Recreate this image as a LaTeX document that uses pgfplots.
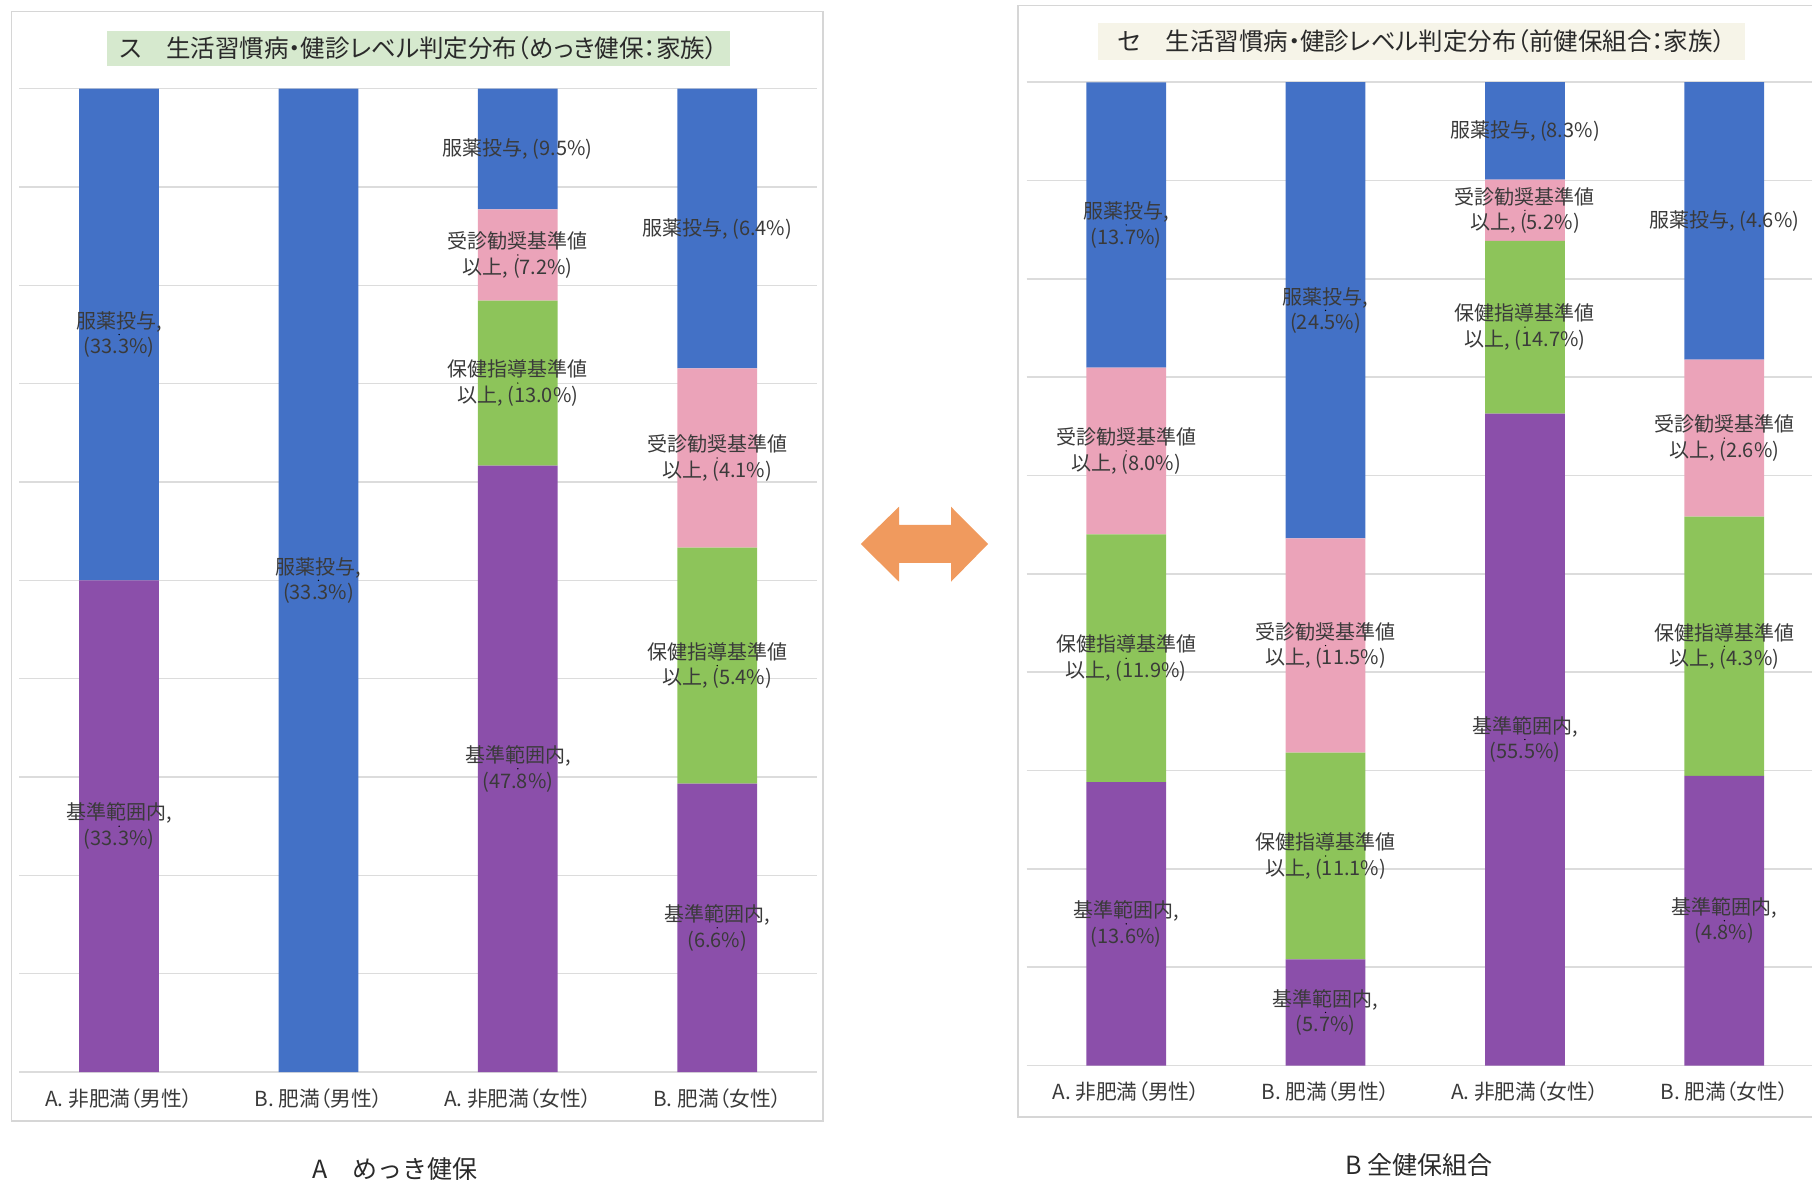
\documentclass[border=0pt]{standalone}
\usepackage{pgfplots}
\pgfplotsset{compat=1.18}
\usepackage{pgfplotstable}
\usepackage{fontspec}
\setmainfont{Noto Sans CJK JP}
% proportional punctuation for titles and category names
\newfontfamily\pfont[RawFeature=+palt]{Noto Sans CJK JP}

\definecolor{cKijun}{HTML}{8B4FAA}
\definecolor{cHoken}{HTML}{8DC45A}
\definecolor{cJushin}{HTML}{EBA3B9}
\definecolor{cFukuyaku}{HTML}{4371C6}
\definecolor{gridgray}{HTML}{DCDCDC}
\definecolor{framegray}{HTML}{D6D6D6}
\definecolor{txt}{HTML}{3A3A3A}
\definecolor{titletext}{HTML}{2A2A2A}
\definecolor{titlegreen}{HTML}{D6E9CE}
\definecolor{titlecream}{HTML}{F6F4E8}
\definecolor{arrowfill}{HTML}{F09A5E}

% shares (%) per group: pur = 基準範囲内, grn = 保健指導基準値以上,
% pnk = 受診勧奨基準値以上, blu = 服薬投与
\pgfplotstableread{
x pur grn pnk blu
0 33.3 0    0   33.3
1 0    0    0   33.3
2 47.8 13.0 7.2 9.5
3 6.6  5.4  4.1 6.4
}\mekki
\pgfplotstableread{
x pur grn pnk blu
0 13.6 11.9 8.0  13.7
1 5.7  11.1 11.5 24.5
2 55.5 14.7 5.2  8.3
3 4.8  4.3  2.6  4.6
}\zenkenpo

% group total, used to draw every bar at full height (100% stacked)
\newcommand\tot{(\thisrow{pur}+\thisrow{grn}+\thisrow{pnk}+\thisrow{blu})}

% #1 table, #2 column, #3 colour
\newcommand\shareplot[3]{%
  \addplot[fill=#3, draw=none]
    table[x=x, y expr={\thisrow{#2}/\tot*100}] {#1};
}

% value label in the middle of a segment
% #1 table, #2 column, #3 condition, #4 sum of the segments below, #5 text
\newcommand\labelplot[5]{%
  \addplot[only marks, mark=*, mark size=0.01pt,
    mark options={draw=none, fill=none},
    point meta={\thisrow{#2}}, nodes near coords={#5}]
    table[x=x, y expr={(#3)*((#4+\thisrow{#2}/2)/\tot*100)+(1-(#3))*(-50)}] {#1};
}
\newcommand\val{(\pgfmathprintnumber{\pgfplotspointmeta}\%)}

\newcommand\alllabels[1]{%
  \labelplot{#1}{pur}{\thisrow{pur}>0}{0}{基準範囲内,\\\val}
  \labelplot{#1}{grn}{\thisrow{grn}>0}{\thisrow{pur}}{保健指導基準値\\以上, \val}
  \labelplot{#1}{pnk}{\thisrow{pnk}>0}{\thisrow{pur}+\thisrow{grn}}{受診勧奨基準値\\以上, \val}
  \labelplot{#1}{blu}{(\thisrow{blu}>0)*(\thisrow{blu}<10)}{\thisrow{pur}+\thisrow{grn}+\thisrow{pnk}}{服薬投与, \val}
  \labelplot{#1}{blu}{\thisrow{blu}>9.99}{\thisrow{pur}+\thisrow{grn}+\thisrow{pnk}}{服薬投与,\\\val}
}

\pgfplotsset{
  frame/.style={
    scale only axis, width=319pt, height=393.3pt,
    anchor=south west,
    xmin=-0.5, xmax=3.5, ymin=0, ymax=100,
    enlargelimits=false, clip=false,
  },
  panel/.style={
    frame,
    ybar stacked, bar width=31.9pt,
    xtick={0,1,2,3},
    xticklabels={A. 非肥満（男性）,B. 肥満（男性）,A. 非肥満（女性）,B. 肥満（女性）},
    xticklabel style={anchor=center, yshift=-10.5pt,
      font=\pfont\fontsize{8.3}{10}\selectfont, text=txt},
    ytick={0,10,...,100}, yticklabels={},
    ymajorgrids, grid style={gridgray, line width=0.6pt},
    major tick length=0pt,
    axis line style={draw=none},
  },
  labels/.style={
    frame, hide axis,
    restrict y to domain=0:100,
    /pgf/number format/fixed,
    /pgf/number format/fixed zerofill,
    /pgf/number format/precision=1,
    /pgf/number format/assume math mode=true,
    every node near coord/.append style={
      anchor=center, align=center, inner sep=0pt,
      font=\fontsize{8}{10.2}\selectfont, text=txt},
  },
}

\begin{document}
\begin{tikzpicture}
% panel frames
\draw[framegray, line width=0.5pt] (4.64pt,-4.64pt) rectangle (329.2pt,-448.4pt);
\draw[framegray, line width=0.5pt] (407.2pt,-2.3pt) rectangle (740pt,-446.8pt);

% panel titles
\node[fill=titlegreen, minimum width=249.2pt, minimum height=14pt, inner sep=0pt,
      text=titletext, font=\pfont\fontsize{9.8}{11}\selectfont]
  at (167.4pt,-19.4pt) {ス　生活習慣病・健診レベル判定分布（めっき健保：家族）};
\node[fill=titlecream, minimum width=258.8pt, minimum height=14.8pt, inner sep=0pt,
      text=titletext, font=\pfont\fontsize{9.8}{11}\selectfont]
  at (568.6pt,-16.6pt) {セ　生活習慣病・健診レベル判定分布（前健保組合：家族）};

% left panel
\begin{axis}[panel, at={(7.76pt,-428.8pt)}]
  \shareplot{\mekki}{pur}{cKijun}
  \shareplot{\mekki}{grn}{cHoken}
  \shareplot{\mekki}{pnk}{cJushin}
  \shareplot{\mekki}{blu}{cFukuyaku}
\end{axis}
\begin{axis}[labels, at={(7.76pt,-428.8pt)}]
  \alllabels{\mekki}
\end{axis}

% right panel
\begin{axis}[panel, at={(410.6pt,-426.2pt)}]
  \shareplot{\zenkenpo}{pur}{cKijun}
  \shareplot{\zenkenpo}{grn}{cHoken}
  \shareplot{\zenkenpo}{pnk}{cJushin}
  \shareplot{\zenkenpo}{blu}{cFukuyaku}
\end{axis}
\begin{axis}[labels, at={(410.6pt,-426.2pt)}]
  \alllabels{\zenkenpo}
\end{axis}

% comparison arrow
\fill[arrowfill] (344.3pt,-217.6pt) -- (359.6pt,-202.7pt) -- (359.6pt,-210pt)
  -- (380.4pt,-210pt) -- (380.4pt,-202.7pt) -- (395.2pt,-217.6pt)
  -- (380.4pt,-232.7pt) -- (380.4pt,-225.2pt) -- (359.6pt,-225.2pt)
  -- (359.6pt,-232.7pt) -- cycle;

% captions
\node[text=titletext, font=\fontsize{10}{12}\selectfont] at (158pt,-467.8pt) {A　めっき健保};
\node[text=titletext, font=\fontsize{10}{12}\selectfont] at (567.6pt,-466pt) {B 全健保組合};

\pgfresetboundingbox
\useasboundingbox (0pt,0pt) rectangle (724.8pt,-472.8pt);
\end{tikzpicture}
\end{document}
